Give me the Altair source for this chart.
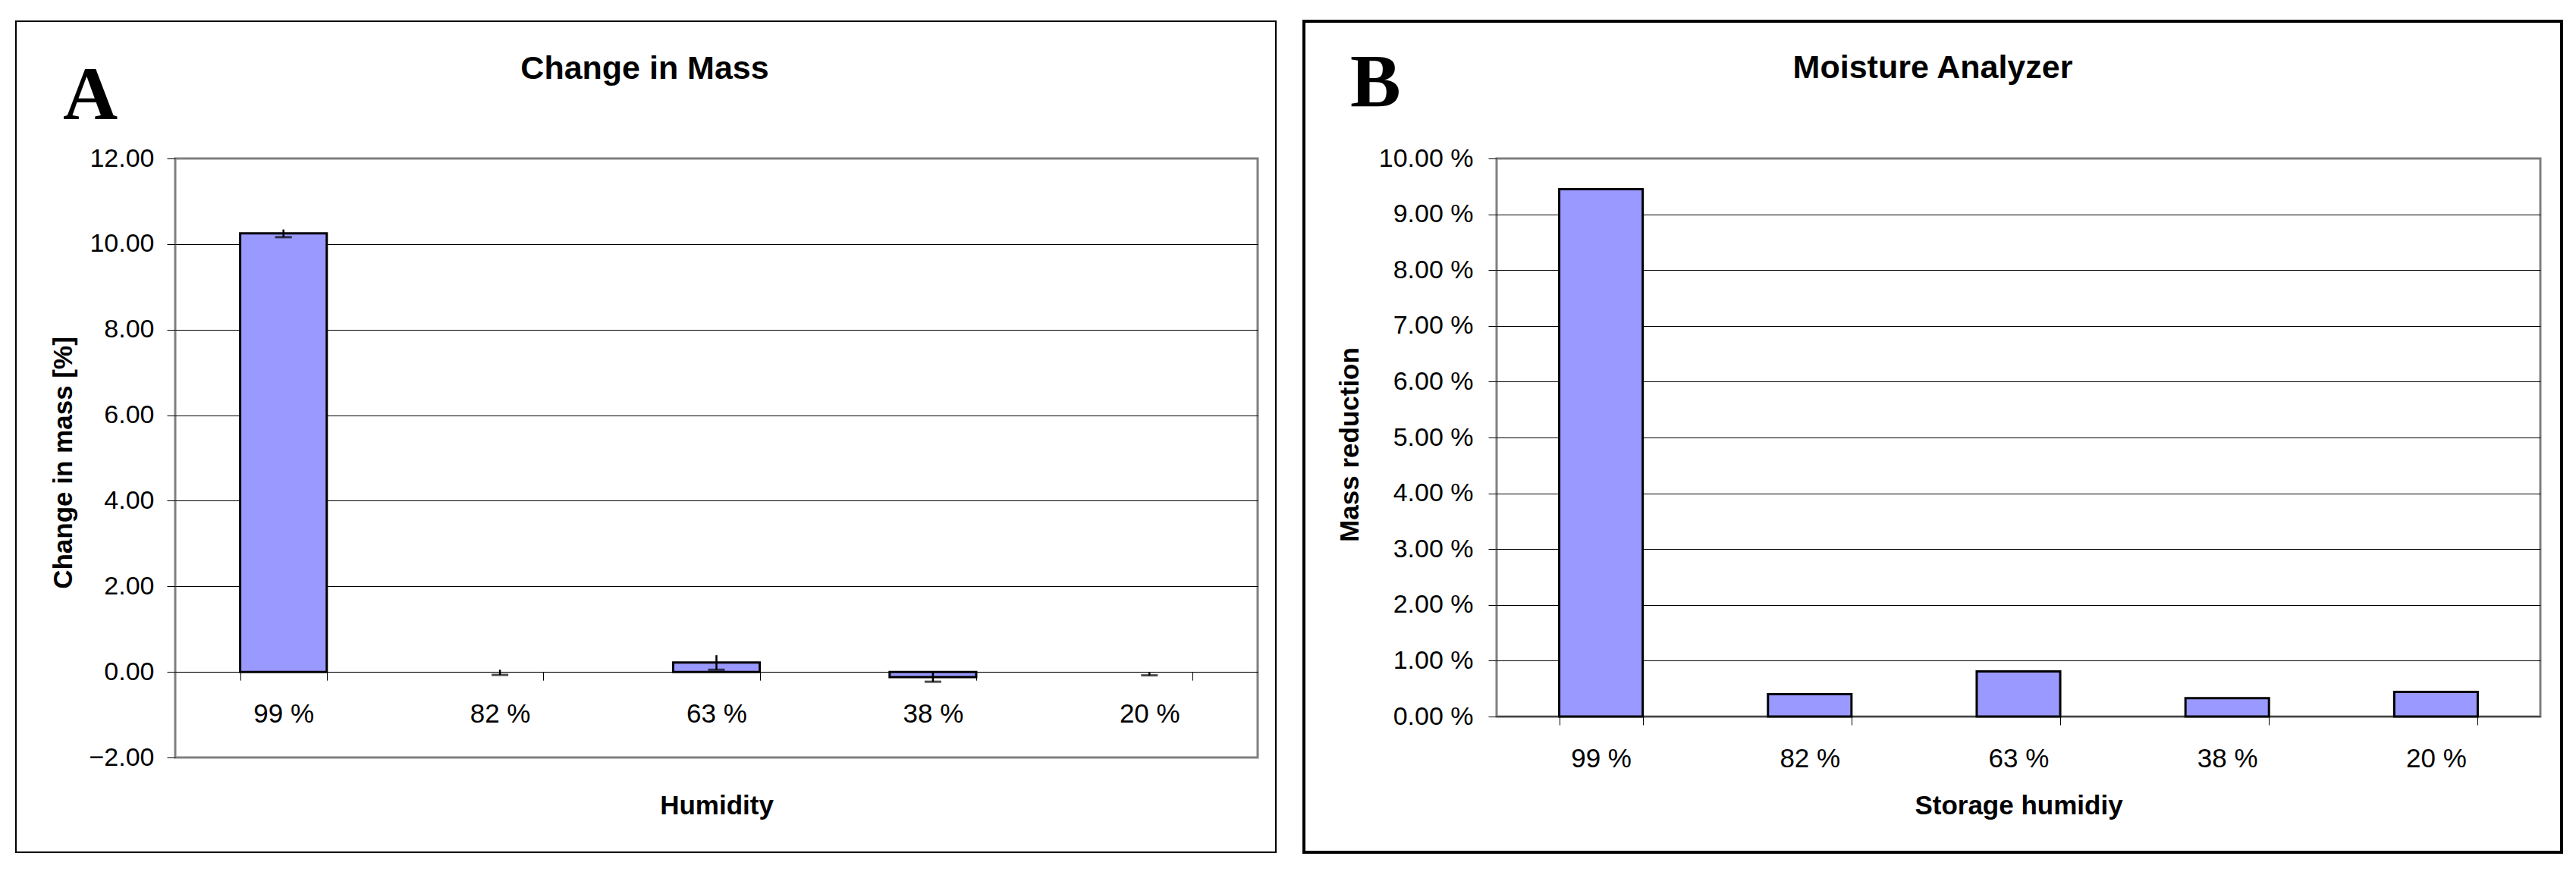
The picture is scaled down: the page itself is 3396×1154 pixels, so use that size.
import altair as alt
import pandas as pd

# ---------------- data ----------------
humidity = ["99 %", "82 %", "63 %", "38 %", "20 %"]
mass_change = [10.25, -0.01, 0.22, -0.12, -0.04]        # panel A, %
mass_change_err = [0.09, 0.06, 0.17, 0.11, 0.04]        # panel A error
mass_reduction = [9.45, 0.40, 0.81, 0.33, 0.44]         # panel B, %
a_ticks = [-2, 0, 2, 4, 6, 8, 10, 12]
b_ticks = [0, 1, 2, 3, 4, 5, 6, 7, 8, 9, 10]

FONT = "Liberation Sans, Arial, Helvetica, sans-serif"
SERIF = "Liberation Serif, Times New Roman, serif"
BAR_FILL = "#9999FF"

dfa = pd.DataFrame({"Humidity": humidity, "value": mass_change, "err": mass_change_err})
dfa["lo"] = dfa["value"] - dfa["err"]
dfa["hi"] = dfa["value"] + dfa["err"]
dfb = pd.DataFrame({"Humidity": humidity, "value": mass_reduction})
one = alt.Data(values=[{"k": 0}])

WA, HA = 1427, 790
WB, HB = 1376, 736


def xaxis(offset, title_y):
    return alt.Axis(
        offset=offset, labelAngle=0, tickBand="extent", tickSize=11, tickColor="black",
        tickWidth=1, domainColor="black", domainWidth=1, labelFont=FONT, labelFontSize=35,
        labelColor="black", labelPadding=27, titleFont=FONT, titleFontSize=35,
        titleFontWeight="bold", titleColor="black", titleY=title_y, titleBaseline="middle",
        grid=False,
    )


def yaxis(values, title_x, title_y, label_padding, hide_test, label_expr):
    return alt.Axis(
        values=values, labelExpr=label_expr, domain=False, tickSize=11, tickColor="black",
        tickWidth=1, labelFont=FONT, labelFontSize=34, labelColor="black",
        labelPadding=label_padding, titleFont=FONT, titleFontSize=35, titleFontWeight="bold",
        titleColor="black", titleX=title_x, titleY=title_y, titleAngle=-90,
        titleBaseline="middle", titleAlign="center",
        grid=True, gridColor="black", gridWidth=1,
        gridOpacity={"condition": {"test": hide_test, "value": 0}, "value": 1},
    )


xs = alt.Scale(paddingInner=0.6, paddingOuter=0.3)

# ---------------- panel A ----------------
xA = alt.X("Humidity:N", sort=humidity, scale=xs, title="Humidity",
           axis=xaxis(-HA * 2 / 14, 176))
yA = alt.Y("value:Q", scale=alt.Scale(domain=[-2, 12], nice=False, zero=False),
           title="Change in mass [%]",
           axis=yaxis(a_ticks, -148, 401, 17, "datum.value <= -2 || datum.value >= 12",
                      "format(datum.value, '.2f')"))

barsA = alt.Chart(dfa).mark_bar(color=BAR_FILL, stroke="black", strokeWidth=3).encode(
    x=xA, y=yA,
    opacity=alt.condition("abs(datum.value) < 0.05", alt.value(0), alt.value(1)))
errA = alt.Chart(dfa).mark_rule(color="black", strokeWidth=2.5).encode(
    x=alt.X("Humidity:N", sort=humidity), y=alt.Y("lo:Q"), y2="hi:Q")
capA = alt.Chart(dfa).mark_tick(color="black", size=22, thickness=3).encode(
    x=alt.X("Humidity:N", sort=humidity), y=alt.Y("lo:Q"))
borderA = alt.Chart(one).mark_rect(fillOpacity=0, stroke="black", strokeWidth=2).encode(
    x=alt.value(-210), x2=alt.value(1451), y=alt.value(-181), y2=alt.value(915))
titleA = alt.Chart(one).mark_text(text="Change in Mass", font=FONT, fontSize=43,
                                  fontWeight="bold", align="center", baseline="alphabetic",
                                  color="black").encode(x=alt.value(619), y=alt.value(-105))
letterA = alt.Chart(one).mark_text(text="A", font=SERIF, fontSize=100, fontWeight="bold",
                                   align="left", baseline="alphabetic",
                                   color="black").encode(x=alt.value(-148), y=alt.value(-52))

panelA = alt.layer(borderA, barsA, errA, capA, titleA, letterA).properties(width=WA, height=HA)

# ---------------- panel B ----------------
xB = alt.X("Humidity:N", sort=humidity, scale=xs, title="Storage humidiy",
           axis=xaxis(0, 117))
yB = alt.Y("value:Q", scale=alt.Scale(domain=[0, 10], nice=False),
           title="Mass reduction",
           axis=yaxis(b_ticks, -194, 377, 20, "datum.value <= 0 || datum.value >= 10",
                      "format(datum.value, '.2f') + ' %'"))

barsB = alt.Chart(dfb).mark_bar(color=BAR_FILL, stroke="black", strokeWidth=3).encode(x=xB, y=yB)
borderB = alt.Chart(one).mark_rect(fillOpacity=0, stroke="black", strokeWidth=4).encode(
    x=alt.value(-254), x2=alt.value(1404), y=alt.value(-181), y2=alt.value(915))
titleB = alt.Chart(one).mark_text(text="Moisture Analyzer", font=FONT, fontSize=43,
                                  fontWeight="bold", align="center", baseline="alphabetic",
                                  color="black").encode(x=alt.value(575), y=alt.value(-106))
letterB = alt.Chart(one).mark_text(text="B", font=SERIF, fontSize=100, fontWeight="bold",
                                   align="left", baseline="alphabetic",
                                   color="black").encode(x=alt.value(-193), y=alt.value(-69))

panelB = alt.layer(borderB, barsB, titleB, letterB).properties(width=WB, height=HB)

chart = alt.hconcat(panelA, panelB, spacing=30).properties(
    padding={"left": 10, "top": 16, "right": 5, "bottom": 5},
    background="white",
).configure_view(stroke="#808080", strokeWidth=3)

chart.save("out.html", embed_options={"renderer": "svg", "actions": False})
